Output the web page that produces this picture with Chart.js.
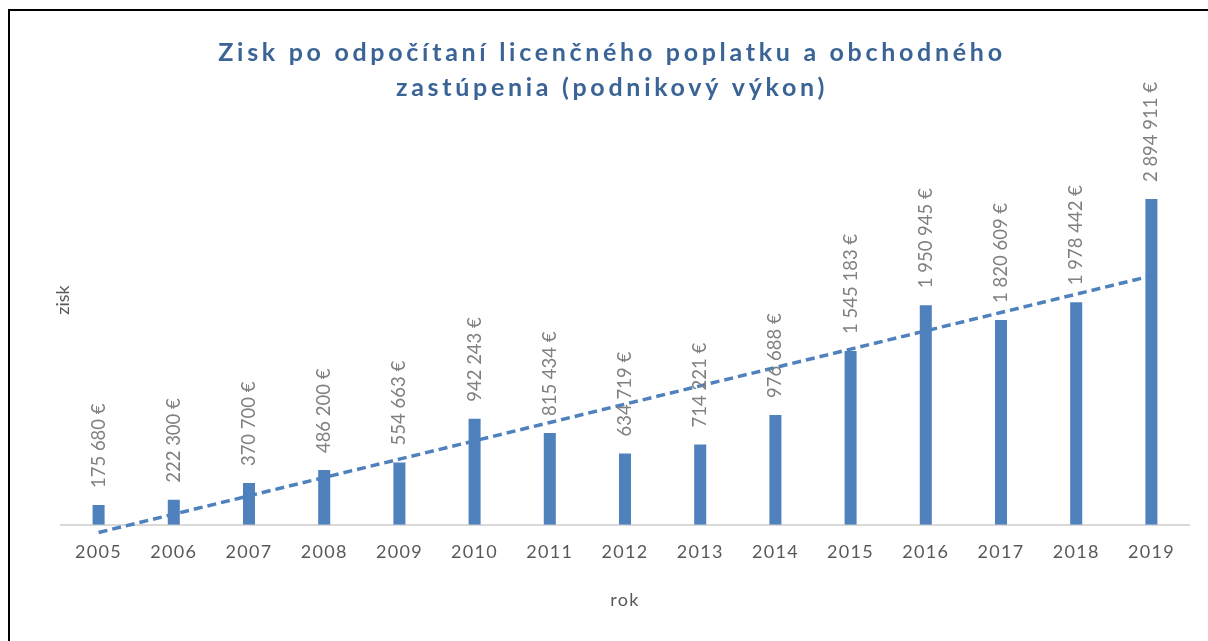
<!DOCTYPE html>
<html>
<head>
<meta charset="utf-8">
<script src="https://cdn.jsdelivr.net/npm/chart.js@4/dist/chart.umd.min.js"></script>
<style>
  html, body { margin: 0; padding: 0; background: #fff; overflow: hidden; }
  canvas { display: block; }
</style>
</head>
<body>
<canvas id="chart" width="1208" height="641"></canvas>
<script>
// roky a zisk v eurách
var years = ["2005", "2006", "2007", "2008", "2009", "2010", "2011", "2012", "2013", "2014", "2015", "2016", "2017", "2018", "2019"];
var profit = [175680, 222300, 370700, 486200, 554663, 942243, 815434, 634719, 714221, 976688, 1545183, 1950945, 1820609, 1978442, 2894911];
var titleLines = ["Zisk po odpočítaní licenčného poplatku a obchodného", "zastúpenia (podnikový výkon)"];

// lineárny trend (ako v Exceli) - metóda najmenších štvorcov
function linearTrend(vals) {
    var n = vals.length, sx = 0, sy = 0, sxy = 0, sxx = 0;
    for (var i = 0; i < n; i++) {
        sx += i; sy += vals[i]; sxy += i * vals[i]; sxx += i * i;
    }
    var k = (n * sxy - sx * sy) / (n * sxx - sx * sx);
    var q = (sy - k * sx) / n;
    return vals.map(function(v, i) { return q + k * i; });
}

function euro(v) {
    return String(v).replace(/\B(?=(\d{3})+(?!\d))/g, " ") + " €";
}

// rámik + riedke písmo: nadpis viac, popisky osi menej
var spacingPlugin = {
    id: "spacing",
    beforeDraw: function(chart) {
        var ctx = chart.ctx;
        ctx.save();
        ctx.fillStyle = "#000";
        ctx.fillRect(8, 9, chart.width - 8, 2);
        ctx.fillRect(8, 9, 2, chart.height - 9);
        ctx.restore();
        ctx.letterSpacing = "1.3px";
        var t = chart.titleBlock;
        if (t && !t._wrapped) {
            var orig = t.draw;
            t.draw = function() {
                ctx.letterSpacing = "3.7px";
                orig.apply(this, arguments);
                ctx.letterSpacing = "1.3px";
            };
            t._wrapped = true;
        }
    }
};

var labelsPlugin = {
    id: "barLabels",
    afterDatasetsDraw: function(chart) {
        var ctx = chart.ctx;
        var meta = chart.getDatasetMeta(0);
        ctx.save();
        ctx.letterSpacing = "0px";
        ctx.font = "18.5px Lato";
        ctx.fillStyle = "#808080";
        ctx.textAlign = "left";
        ctx.textBaseline = "middle";
        meta.data.forEach(function(bar, i) {
            ctx.save();
            ctx.translate(bar.x, bar.y - 17);
            ctx.rotate(-Math.PI / 2);
            ctx.fillText(euro(profit[i]), 0, 0);
            ctx.restore();
        });
        // názov osi y
        ctx.font = "18px Lato";
        ctx.fillStyle = "#595959";
        ctx.textAlign = "center";
        ctx.translate(63, 300);
        ctx.rotate(-Math.PI / 2);
        ctx.fillText("zisk", 0, 0);
        ctx.restore();
    }
};

document.addEventListener("DOMContentLoaded", function() {
    new Chart(document.getElementById("chart"), {
        data: {
            labels: years,
            datasets: [
                {
                    type: "bar",
                    label: "zisk",
                    data: profit,
                    backgroundColor: "#4F81BD",
                    categoryPercentage: 1,
                    barPercentage: 0.16,
                    order: 1
                },
                {
                    type: "line",
                    label: "Lineárny (zisk)",
                    data: linearTrend(profit),
                    borderColor: "#4F81BD",
                    borderWidth: 3.5,
                    borderDash: [9, 5],
                    pointRadius: 0,
                    fill: false,
                    clip: false,
                    order: 0
                }
            ]
        },
        options: {
            responsive: false,
            animation: false,
            layout: { padding: { left: 35, right: 19, top: 0, bottom: 30 } },
            plugins: {
                legend: { display: false },
                tooltip: { enabled: false },
                title: {
                    display: true,
                    text: titleLines,
                    color: "#3B6496",
                    font: { family: "Lato", size: 25, weight: "bold", lineHeight: 1.4 },
                    padding: { top: 35, bottom: 26 }
                }
            },
            scales: {
                x: {
                    grid: { display: false, drawTicks: false },
                    border: { display: true, color: "#D9D9D9", width: 2 },
                    ticks: {
                        color: "#595959",
                        font: { family: "Lato", size: 18 },
                        padding: 17,
                        maxRotation: 0,
                        autoSkip: false
                    },
                    title: {
                        display: true,
                        text: "rok",
                        color: "#595959",
                        font: { family: "Lato", size: 18 },
                        padding: { top: 9, bottom: 0 }
                    }
                },
                y: {
                    display: true,
                    min: 0,
                    max: 3500000,
                    grid: { display: false, drawTicks: false },
                    border: { display: false },
                    ticks: { display: false },
                    afterFit: function(scale) { scale.width = 26; }
                }
            }
        },
        plugins: [spacingPlugin, labelsPlugin]
    });
});
</script>
</body>
</html>
